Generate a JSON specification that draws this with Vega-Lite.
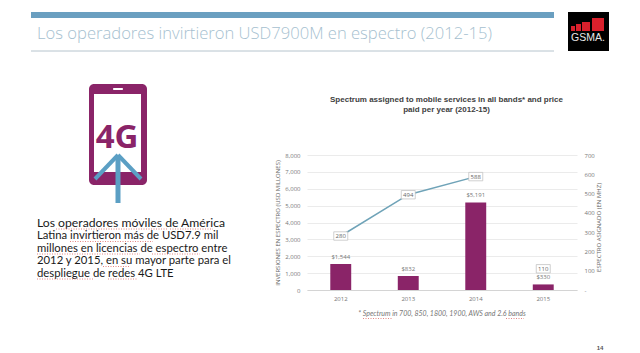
{
"$schema":"https://vega.github.io/schema/vega-lite/v6.json",
"width":270,"height":135,"autosize":"none",
"padding":{"left":307,"top":155,"right":63,"bottom":63},
"background":"white",
"config":{"view":{"stroke":null},"font":"Open Sans"},
"datasets":{
"years":[{"year":"2012","usd":1544,"usdLabel":"$1,544","mhz":280},{"year":"2013","usd":832,"usdLabel":"$832","mhz":494},{"year":"2014","usd":5191,"usdLabel":"$5,191","mhz":588},{"year":"2015","usd":330,"usdLabel":"$330","mhz":110}],
"one":[{"k":1}]
},
"data":{"name":"years"},
"resolve":{"scale":{"y":"independent"}},
"layer":[
{"encoding":{
   "x":{"field":"year","type":"nominal","sort":null,"scale":{"paddingInner":0.69,"paddingOuter":0.345},"axis":{"title":null,"labelAngle":0,"labelFontSize":6,"labelColor":"#777777","domainColor":"#d4d4d4","ticks":false,"labelPadding":5}},
   "y":{"field":"usd","type":"quantitative","scale":{"domain":[0,8000]},"axis":{"values":[0,1000,2000,3000,4000,5000,6000,7000,8000],"labelExpr":"format(datum.value, ',')","grid":true,"gridColor":"#e6e6e6","gridWidth":0.8,"domain":false,"ticks":false,"labelFontSize":6,"labelColor":"#777777","labelPadding":7,"title":"INVERSIONES EN ESPECTRO (USD MILLONES)","titleFontSize":6,"titleFontWeight":"normal","titleColor":"#666666","titlePadding":4}}
  },
 "layer":[
 {"mark":{"type":"bar","color":"#8a2468"}},
 {"mark":{"type":"text","fontSize":6,"color":"#777777","dy":-7},"encoding":{"text":{"field":"usdLabel"}}}
]},
{"encoding":{"x":{"field":"year","type":"nominal","sort":null},
   "y":{"field":"mhz","type":"quantitative","scale":{"domain":[0,700]},"axis":{"orient":"right","values":[0,100,200,300,400,500,600,700],"labelExpr":"datum.value === 0 ? '-' : datum.label","grid":false,"domain":false,"ticks":false,"labelFontSize":6,"labelColor":"#777777","labelPadding":7,"title":"ESPECTRO ASIGNADO (EN MHZ)","titleAngle":270,"titleY":72,"titleFontSize":6,"titleFontWeight":"normal","titleColor":"#666666","titlePadding":7}}},
 "layer":[
 {"transform":[{"filter":"datum.year != '2015'"}],"mark":{"type":"line","color":"#6fa3b8","strokeWidth":1.5}},
 {"mark":{"type":"point","filled":true,"fill":"white","stroke":"#bbbbbb","strokeWidth":0.7,"opacity":1,"shape":"M-1,-0.6H1V0.6H-1Z","size":196}},
 {"mark":{"type":"text","fontSize":6,"color":"#666666"},"encoding":{"text":{"field":"mhz","type":"quantitative"}}}
]},
{"data":{"values":[{"t":"Spectrum assigned to mobile services in all bands* and price\npaid per year (2012-15)"}]},
 "mark":{"type":"text","font":"Liberation Sans","fontWeight":"bold","fontSize":8,"color":"#404040","align":"center","baseline":"alphabetic","lineBreak":"\n","lineHeight":10},
 "encoding":{"text":{"field":"t"},"x":{"value":139.5},"y":{"value":-53}}},
{"data":{"values":[{"t":"* Spectrum in 700, 850, 1800, 1900, AWS and 2.6 bands"}]},
 "mark":{"type":"text","font":"Lato","fontStyle":"italic","fontSize":7,"color":"#777777","align":"center","baseline":"alphabetic"},
 "encoding":{"text":{"field":"t"},"x":{"value":135},"y":{"value":161}}},
{"data":{"values":[{"t":"Los operadores invirtieron USD7900M  en espectro (2012-15)"}]},
 "mark":{"type":"text","font":"Open Sans","fontWeight":300,"fontSize":16.6,"color":"#a6bfd0","align":"left","baseline":"alphabetic"},
 "encoding":{"text":{"field":"t"},"x":{"value":-270},"y":{"value":-116}}},
{"data":{"values":[{"t":"Los operadores móviles de América"}]},
 "mark":{"type":"text","font":"Lato","fontSize":12.2,"color":"#1a1a1a","align":"left","baseline":"alphabetic"},
 "encoding":{"text":{"field":"t"},"x":{"value":-270},"y":{"value":71.5}}},
{"data":{"values":[{"t":"Latina invirtieron más de USD7.9 mil\nmillones en licencias de espectro entre\n2012 y 2015, en su mayor parte para el\ndespliegue de redes 4G LTE"}]},
 "mark":{"type":"text","font":"Lato","fontSize":11.3,"color":"#1a1a1a","align":"left","baseline":"alphabetic","lineBreak":"\n","lineHeight":12.5},
 "encoding":{"text":{"field":"t"},"x":{"value":-270},"y":{"value":84}}},
{"data":{"values":[{"t":"14"}]},
 "mark":{"type":"text","font":"Liberation Sans","fontWeight":"bold","fontSize":6,"color":"#555555","align":"center","baseline":"alphabetic"},
 "encoding":{"text":{"field":"t"},"x":{"value":293},"y":{"value":195}}},
{"data":{"name":"one"},"mark":{"type":"rect","color":"#6a9fc0"},"encoding":{"x":{"value":-276},"x2":{"value":247},"y":{"value":-143},"y2":{"value":-137}}},
{"data":{"name":"one"},"mark":{"type":"rule","color":"#a3b5c0","strokeWidth":0.8},"encoding":{"x":{"value":-276},"x2":{"value":247},"y":{"value":-104}}},
{"data":{"name":"one"},"mark":{"type":"rect","color":"#000000"},"encoding":{"x":{"value":261},"x2":{"value":302},"y":{"value":-143},"y2":{"value":-104}}},
{"data":{"name":"one"},"mark":{"type":"rect","color":"#d9202c"},"encoding":{"x":{"value":264},"x2":{"value":268},"y":{"value":-129},"y2":{"value":-124}}},
{"data":{"name":"one"},"mark":{"type":"rect","color":"#d9202c"},"encoding":{"x":{"value":269},"x2":{"value":274},"y":{"value":-131},"y2":{"value":-124}}},
{"data":{"name":"one"},"mark":{"type":"rect","color":"#d9202c"},"encoding":{"x":{"value":275},"x2":{"value":283},"y":{"value":-133},"y2":{"value":-124}}},
{"data":{"name":"one"},"mark":{"type":"rect","color":"#d9202c"},"encoding":{"x":{"value":285},"x2":{"value":297},"y":{"value":-137},"y2":{"value":-124}}},
{"data":{"values":[{"t":"GSMA."}]},
 "mark":{"type":"text","font":"Liberation Sans","fontSize":10.5,"color":"#e8e8e8","align":"center","baseline":"alphabetic"},
 "encoding":{"text":{"field":"t"},"x":{"value":281},"y":{"value":-114}}},
{"data":{"name":"one"},"mark":{"type":"rect","color":"#8a2468","cornerRadius":5},"encoding":{"x":{"value":-218},"x2":{"value":-160},"y":{"value":-71},"y2":{"value":30}}},
{"data":{"name":"one"},"mark":{"type":"rect","color":"#ffffff"},"encoding":{"x":{"value":-213},"x2":{"value":-166},"y":{"value":-61},"y2":{"value":17}}},
{"data":{"name":"one"},"mark":{"type":"rect","color":"#ffffff","cornerRadius":1},"encoding":{"x":{"value":-194},"x2":{"value":-184},"y":{"value":-67},"y2":{"value":-65}}},
{"data":{"values":[{"t":"4G"}]},
 "mark":{"type":"text","font":"Open Sans","fontWeight":"bold","fontSize":33,"color":"#8a2468","align":"center","baseline":"alphabetic"},
 "encoding":{"text":{"field":"t"},"x":{"value":-190},"y":{"value":-7}}},
{"data":{"name":"one"},"mark":{"type":"rule","color":"#5b9fc4","strokeWidth":5},"encoding":{"x":{"value":-189},"y":{"value":0},"y2":{"value":48}}},
{"data":{"name":"one"},"mark":{"type":"rule","color":"#5b9fc4","strokeWidth":4},"encoding":{"x":{"value":-189},"x2":{"value":-212},"y":{"value":0},"y2":{"value":24}}},
{"data":{"name":"one"},"mark":{"type":"rule","color":"#5b9fc4","strokeWidth":4},"encoding":{"x":{"value":-189},"x2":{"value":-166},"y":{"value":0},"y2":{"value":24}}},
{"data":{"name":"one"},"mark":{"type":"rule","color":"#d9534f","strokeWidth":0.7,"strokeDash":[1,1.5]},"encoding":{"x":{"value":-251},"x2":{"value":-139},"y":{"value":74}}},
{"data":{"name":"one"},"mark":{"type":"rule","color":"#d9534f","strokeWidth":0.7,"strokeDash":[1,1.5]},"encoding":{"x":{"value":-137},"x2":{"value":-94},"y":{"value":74}}},
{"data":{"name":"one"},"mark":{"type":"rule","color":"#d9534f","strokeWidth":0.7,"strokeDash":[1,1.5]},"encoding":{"x":{"value":-237},"x2":{"value":-154},"y":{"value":86.5}}},
{"data":{"name":"one"},"mark":{"type":"rule","color":"#d9534f","strokeWidth":0.7,"strokeDash":[1,1.5]},"encoding":{"x":{"value":-270},"x2":{"value":-167},"y":{"value":99}}},
{"data":{"name":"one"},"mark":{"type":"rule","color":"#d9534f","strokeWidth":0.7,"strokeDash":[1,1.5]},"encoding":{"x":{"value":-155},"x2":{"value":-107},"y":{"value":99}}},
{"data":{"name":"one"},"mark":{"type":"rule","color":"#d9534f","strokeWidth":0.7,"strokeDash":[1,1.5]},"encoding":{"x":{"value":-204},"x2":{"value":-177},"y":{"value":111.5}}},
{"data":{"name":"one"},"mark":{"type":"rule","color":"#d9534f","strokeWidth":0.7,"strokeDash":[1,1.5]},"encoding":{"x":{"value":-270},"x2":{"value":-213},"y":{"value":124}}},
{"data":{"name":"one"},"mark":{"type":"rule","color":"#d9534f","strokeWidth":0.7,"strokeDash":[1,1.5]},"encoding":{"x":{"value":-199},"x2":{"value":-170},"y":{"value":124}}},
{"data":{"name":"one"},"mark":{"type":"rule","color":"#d9534f","strokeWidth":0.7,"strokeDash":[1,1.5]},"encoding":{"x":{"value":56},"x2":{"value":85},"y":{"value":163.5}}},
{"data":{"name":"one"},"mark":{"type":"rule","color":"#d9534f","strokeWidth":0.7,"strokeDash":[1,1.5]},"encoding":{"x":{"value":199},"x2":{"value":217},"y":{"value":163.5}}}
]}
